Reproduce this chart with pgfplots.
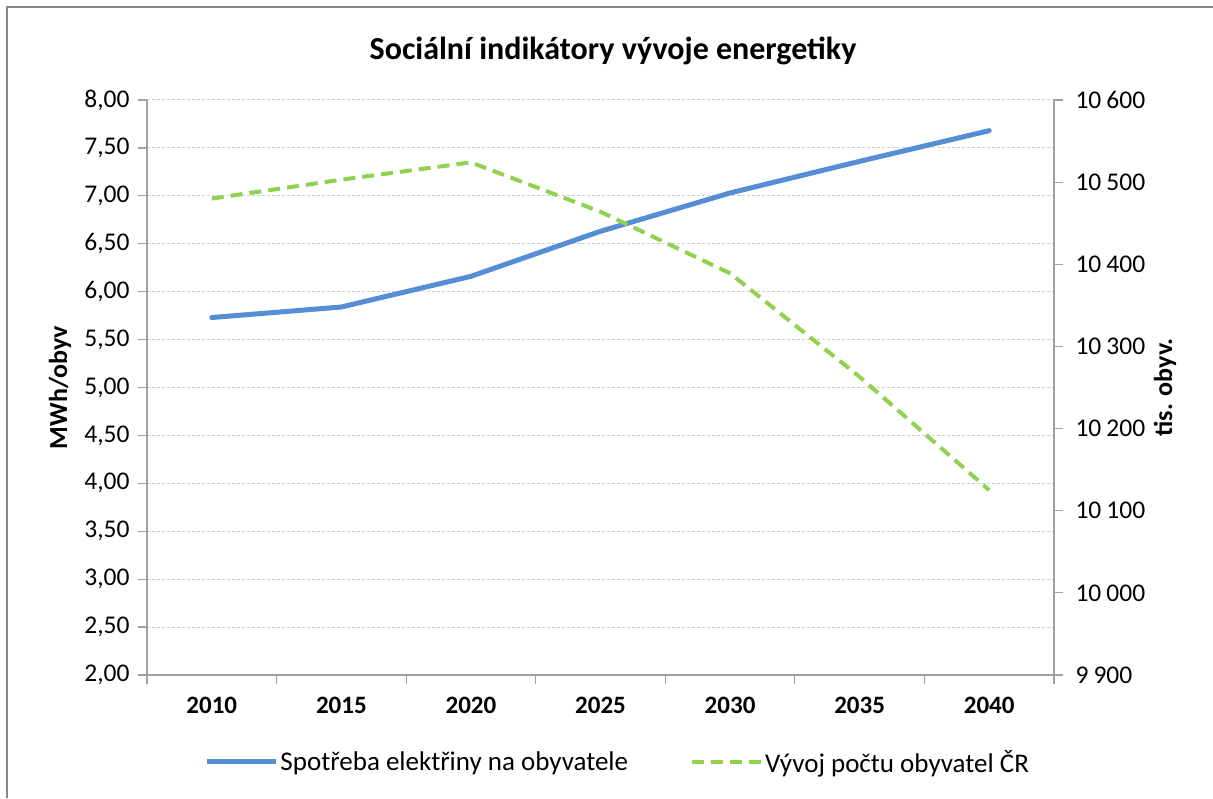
\documentclass[border=0pt]{standalone}
\usepackage{pgfplots}
\pgfplotsset{compat=1.18}
\usepackage{fontspec}
\setmainfont{Carlito}
\definecolor{blueline}{RGB}{85,142,213}
\definecolor{greenline}{RGB}{146,208,80}
\definecolor{axisgray}{RGB}{160,160,160}
\definecolor{gridgray}{RGB}{205,205,205}
\definecolor{bordergray}{RGB}{134,134,134}
\begin{document}
\begin{tikzpicture}
\path[use as bounding box] (0pt,0pt) rectangle (1213pt,798pt);
\draw[bordergray, line width=2pt] (7pt,0pt) -- (7pt,791pt) -- (1213pt,791pt);
\node[font=\fontsize{32}{38}\selectfont\bfseries] at (613pt,747pt) {Sociální indikátory vývoje energetiky};
\begin{axis}[
  at={(147pt,123pt)}, anchor=south west,
  width=907pt, height=575pt, scale only axis,
  xmin=-0.5, xmax=6.5, ymin=2, ymax=8,
  axis x line*=bottom, axis y line*=left,
  axis line style={axisgray, line width=1.2pt},
  xtick={0,...,6},
  xticklabels={2010,2015,2020,2025,2030,2035,2040},
  minor xtick={-0.5,0.5,...,6.5},
  major x tick style={draw=none},
  minor tick length=9pt,
  ytick={2,2.5,...,8},
  major tick length=9pt,
  tick align=outside,
  tick style={axisgray, line width=1.2pt},
  ymajorgrids,
  grid style={gridgray, line width=1pt, dash pattern=on 3pt off 2pt},
  /pgf/number format/assume math mode=true,
  ticklabel style={font=\fontsize{25.5}{30}\selectfont, text=black},
  yticklabel style={xshift=-5pt, /pgf/number format/.cd, fixed, fixed zerofill, precision=2, use comma},
  xticklabel style={font=\fontsize{25}{30}\selectfont\bfseries, yshift=-10pt},
  ylabel={MWh/obyv},
  ylabel style={at={(axis description cs:-0.096,0.5)}, anchor=center, rotate=0, font=\fontsize{26}{31}\selectfont\bfseries},
]
\addplot[blueline, line width=5pt, line join=round, line cap=round] coordinates {
(0,5.73) (1,5.84) (2,6.16) (3,6.63) (4,7.03) (5,7.36) (6,7.68)};
\end{axis}
\begin{axis}[
  at={(147pt,123pt)}, anchor=south west,
  width=907pt, height=575pt, scale only axis,
  xmin=-0.5, xmax=6.5, ymin=9900, ymax=10600,
  axis x line=none, axis y line*=right,
  axis line style={axisgray, line width=1.2pt},
  ytick={9900,10000,...,10600},
  major tick length=9pt,
  tick align=outside,
  tick style={axisgray, line width=1.2pt},
  scaled y ticks=false,
  /pgf/number format/assume math mode=true,
  ticklabel style={font=\fontsize{25.5}{30}\selectfont, text=black},
  yticklabel style={xshift=9pt, /pgf/number format/.cd, fixed, precision=0, 1000 sep={\hspace{0.2em}}},
  ylabel={tis. obyv.},
  ylabel style={at={(axis description cs:1.1224,0.5)}, anchor=center, rotate=0, font=\fontsize{26}{31}\selectfont\bfseries},
  legend columns=2,
  legend style={at={(0.519,-0.151)}, anchor=center, draw=none, fill=none,
    font=\fontsize{27}{32}\selectfont,
    /tikz/every even column/.append style={column sep=60pt},
    inner sep=0pt},
  legend image code/.code={\draw[#1] (0pt,0pt) -- (69pt,0pt);},
]
\addlegendimage{blueline, line width=5pt}
\addlegendentry{Spotřeba elektřiny na obyvatele}
\addplot[greenline, line width=4pt, dash pattern=on 12pt off 7pt] coordinates {
(0,10480) (1,10503) (2,10524) (3,10464) (4,10389) (5,10263) (6,10125)};
\addlegendentry{Vývoj počtu obyvatel ČR}
\end{axis}
\end{tikzpicture}
\end{document}
